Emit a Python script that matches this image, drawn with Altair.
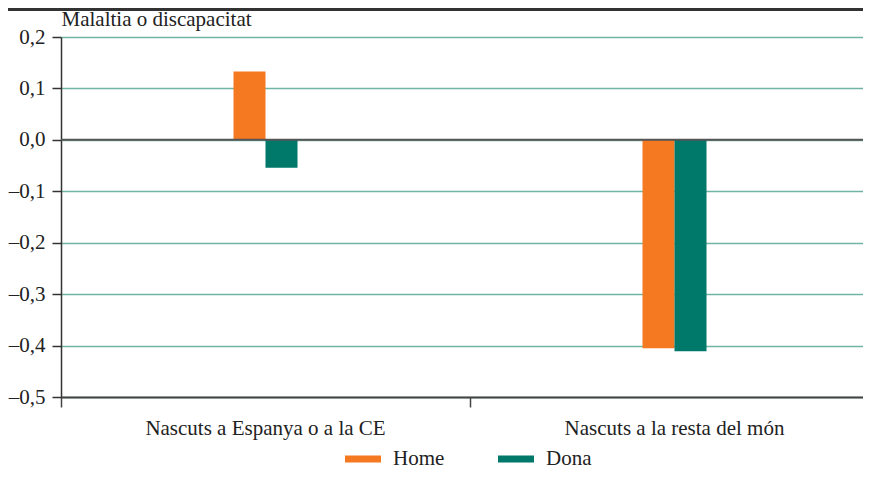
import altair as alt
import pandas as pd

categories = ["Nascuts a Espanya o a la CE", "Nascuts a la resta del món"]
series = ["Home", "Dona"]
home = [0.133, -0.405]
dona = [-0.054, -0.411]
y_ticks = [-0.5, -0.4, -0.3, -0.2, -0.1, 0.0, 0.1, 0.2]
colors = ["#F47920", "#00796B"]

rows = []
for i, c in enumerate(categories):
    rows.append({"cat": c, "sexe": "Home", "val": home[i]})
    rows.append({"cat": c, "sexe": "Dona", "val": dona[i]})
df = pd.DataFrame(rows)

FONT = "'Liberation Serif', 'Times New Roman', Times, serif"
W, H = 802, 360
label_expr = "(datum.value < -0.0001 ? '–' : '') + replace(format(abs(datum.value), '.1f'), '.', ',')"

bars = alt.Chart(df).mark_bar().encode(
    x=alt.X("cat:N", sort=categories,
            scale=alt.Scale(range=[0, 818], paddingInner=0, paddingOuter=0),
            axis=alt.Axis(title=None, bandPosition=0, tickSize=10, tickColor="#444",
                          tickWidth=1.5, domainColor="#444", domainWidth=2, labelAngle=0,
                          labelFont=FONT, labelFontSize=21, labelColor="#222",
                          labelPadding=10, labelLimit=0, grid=False)),
    xOffset=alt.XOffset("sexe:N", sort=series,
                        scale=alt.Scale(range=[172.5, 236.5], paddingInner=0, paddingOuter=0)),
    y=alt.Y("val:Q", stack=None,
            scale=alt.Scale(domain=[-0.5, 0.2], nice=False),
            axis=alt.Axis(values=y_ticks, labelExpr=label_expr, labelFont=FONT,
                          labelFontSize=21, labelColor="#222", labelPadding=7,
                          tickSize=9, tickColor="#333", tickWidth=1.5,
                          domainColor="#333", domainWidth=1.5,
                          grid=True, gridColor="#6fb5a6", gridWidth=1.5,
                          title="Malaltia o discapacitat", titleAngle=0, titleX=0,
                          titleY=-12, titleAlign="left", titleBaseline="alphabetic",
                          titleFont=FONT, titleFontSize=21, titleFontWeight="normal",
                          titleColor="#222")),
    color=alt.Color("sexe:N", sort=series,
                    scale=alt.Scale(domain=series, range=colors),
                    legend=alt.Legend(title=None, orient="none", legendX=284, legendY=404,
                                      direction="horizontal",
                                      symbolType="M-1,-0.19L1,-0.19L1,0.19L-1,0.19Z",
                                      symbolSize=1296, symbolStrokeWidth=0,
                                      labelFont=FONT, labelFontSize=21, labelColor="#222",
                                      labelOffset=12, columnPadding=53, padding=0)),
)

zero = alt.Chart(pd.DataFrame({"z": [0]})).mark_rule(color="#555", strokeWidth=2).encode(
    y=alt.Y("z:Q")
)

top = alt.Chart(pd.DataFrame({"z": [0]})).mark_rule(color="#333", strokeWidth=3).encode(
    x=alt.value(-53), x2=alt.value(810), y=alt.value(-27.5)
)

chart = alt.layer(bars, zero, top).properties(
    width=W, height=H,
    autosize=alt.AutoSizeParams(type="none"),
    padding={"left": 53, "top": 29, "right": 0, "bottom": 76},
).configure(background="white", font=FONT).configure_view(stroke=None)

chart.save("out.html", embed_options={"renderer": "svg", "actions": False})
